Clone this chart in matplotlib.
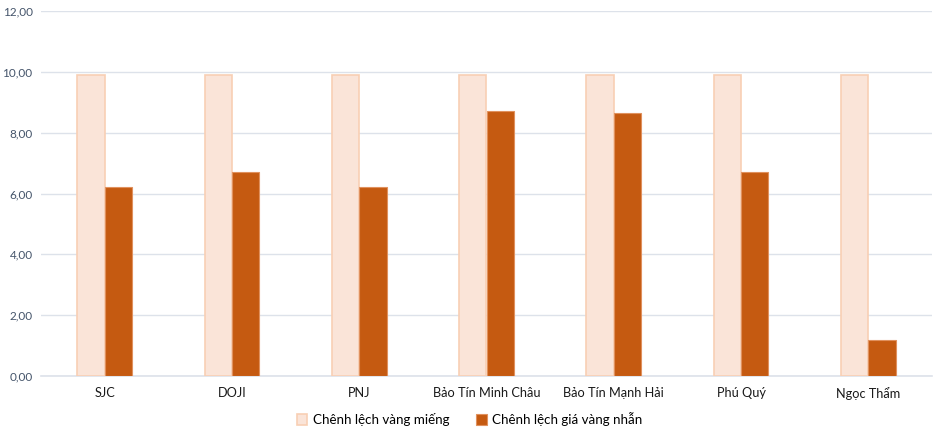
import numpy as np
import matplotlib.pyplot as plt
from matplotlib.ticker import FuncFormatter

brands = ["SJC", "DOJI", "PNJ", "Bảo Tín Minh Châu", "Bảo Tín Mạnh Hải", "Phú Quý", "Ngọc Thẩm"]
bar_gold = [9.9, 9.9, 9.9, 9.9, 9.9, 9.9, 9.9]
ring_gold = [6.2, 6.7, 6.2, 8.7, 8.65, 6.7, 1.2]

plt.rcParams["font.family"] = ["Lato", "DejaVu Sans"]

fig = plt.figure(figsize=(9.39, 4.33), dpi=100)
ax = fig.add_axes([41 / 939, 1 - 376 / 433, 891 / 939, 365 / 433])

x = np.arange(len(brands))
w = 0.215
ax.bar(x - w / 2, bar_gold, w, color="#FAE4D8", edgecolor="#F8CFB4", linewidth=1.2,
       label="Chênh lệch vàng miếng", zorder=3)
ax.bar(x + w / 2, ring_gold, w, color="#C55A11", edgecolor="#E0915E", linewidth=0.8,
       label="Chênh lệch giá vàng nhẫn", zorder=3)

ax.set_xlim(-0.5, len(brands) - 0.5)
ax.set_ylim(0, 12)
ax.set_yticks(np.arange(0, 12.1, 2))
ax.yaxis.set_major_formatter(FuncFormatter(lambda v, p: f"{v:.2f}".replace(".", ",")))
ax.set_xticks(x)
ax.set_xticklabels(brands, fontsize=9.2, color="#1a1a1a")
ax.tick_params(axis="y", labelsize=8.5, labelcolor="#44546A", length=0, pad=6)
ax.tick_params(axis="x", length=0, pad=8)
ax.grid(axis="y", color="#DDE2EA", linewidth=1, zorder=0)
for s in ["top", "right", "left"]:
    ax.spines[s].set_visible(False)
ax.spines["bottom"].set_color("#DDE2EA")
ax.spines["bottom"].set_linewidth(1.2)

fig.legend(loc="lower center", bbox_to_anchor=(0.5, -0.012), ncol=2, frameon=False,
           fontsize=9.6, handlelength=0.8, handleheight=0.8, handletextpad=0.4,
           columnspacing=2.0)

fig.savefig("out.png", dpi=100, facecolor="white")
